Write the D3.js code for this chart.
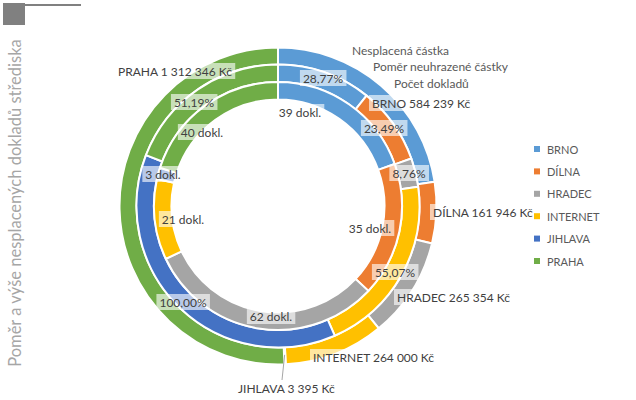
<!DOCTYPE html>
<html><head><meta charset="utf-8">
<script src="https://cdn.jsdelivr.net/npm/d3@7"></script>
<style>body{margin:0;background:#fff}svg{display:block}text{font-family:Lato,"Open Sans",sans-serif}</style>
</head><body><svg id="c" width="636" height="400"></svg>
<script>
const categories = ["BRNO","DÍLNA","HRADEC","INTERNET","JIHLAVA","PRAHA"];
const seriesNames = ["Nesplacená částka","Poměr neuhrazené částky","Počet dokladů"];
const amounts = [584239,161946,265354,264000,3395,1312346];
const ratios = [28.77,23.49,8.76,55.07,100.00,51.19];
const counts = [39,35,62,21,3,40];
const colors = ["#5B9BD5","#ED7D31","#A5A5A5","#FFC000","#4472C4","#70AD47"];
const axisTitle = "Poměr  a výše nesplacených dokladů střediska";

const svg = d3.select("#c");
const cx = 278, cy = 206;
const rings = [
  {values: amounts, r0: 141.5, r1: 158.5},
  {values: ratios, r0: 124, r1: 141.5},
  {values: counts, r0: 106.5, r1: 124}
];
const pie = d3.pie().sort(null).value(d => d);
const color = d3.scaleOrdinal().domain(categories).range(colors);
const g = svg.append("g").attr("transform", `translate(${cx},${cy})`);
rings.forEach(ring => {
  const arc = d3.arc().innerRadius(ring.r0).outerRadius(ring.r1);
  g.append("g").selectAll("path").data(pie(ring.values)).join("path")
    .attr("d", arc).attr("fill", (d,i) => color(categories[i]))
    .attr("stroke", "#fff").attr("stroke-width", 2).attr("stroke-linejoin","round");
});

// leader line for JIHLAVA outer label
const jArcs = pie(amounts);
const ja = (jArcs[4].startAngle + jArcs[4].endAngle) / 2;
const jr = 149;
svg.append("line")
  .attr("x1", cx + jr*Math.sin(ja)).attr("y1", cy - jr*Math.cos(ja))
  .attr("x2", 282).attr("y2", 380)
  .attr("stroke", "#a6a6a6").attr("stroke-width", 1);

const fmtAmt = v => d3.format(",")(v).replace(/,/g, " ");
const fmtPct = v => v.toFixed(2).replace(".", ",") + "%";
// label layout: [x, y, anchor]
const amtPos = [[372,103,"start"],[433,212,"start"],[397,297,"start"],[313,357,"start"],[238,388,"start"],[118,71,"start"]];
const pctPos = [[323,78,"middle"],[384,128,"middle"],[409,173,"middle"],[395,272,"middle"],[183,302,"middle"],[194,102,"middle"]];
const cntPos = [[300,112,"middle"],[370,228,"middle"],[271,316,"middle"],[183,219,"middle"],[163,174,"middle"],[202,132,"middle"]];

const labels = [];
categories.forEach((c,i) => {
  labels.push({t: `${c} ${fmtAmt(amounts[i])} Kč`, p: amtPos[i]});
  labels.push({t: fmtPct(ratios[i]), p: pctPos[i]});
  labels.push({t: `${counts[i]} dokl.`, p: cntPos[i]});
});
const lg = svg.append("g");
labels.forEach(l => {
  const grp = lg.append("g");
  const rect = grp.append("rect").attr("fill", "#fff").attr("fill-opacity", 0.62);
  const txt = grp.append("text").attr("x", l.p[0]).attr("y", l.p[1])
    .attr("text-anchor", l.p[2]).attr("dominant-baseline", "central")
    .attr("font-size", 12).attr("fill", "#404040").text(l.t);
  const bb = txt.node().getBBox();
  rect.attr("x", bb.x - 3).attr("y", l.p[1] - 8).attr("width", bb.width + 6).attr("height", 16);
});

// series names
seriesNames.forEach((s,i) => {
  svg.append("text").attr("x", 352 + i*21).attr("y", 50 + i*16.5)
    .attr("dominant-baseline","central").attr("font-size", 12).attr("fill", "#595959").text(s);
});

// legend
const leg = svg.append("g");
categories.forEach((c,i) => {
  const y = 149 + i*22.4;
  leg.append("rect").attr("x", 534).attr("y", y-3).attr("width", 6).attr("height", 6).attr("fill", colors[i]);
  leg.append("text").attr("x", 547).attr("y", y).attr("dominant-baseline","central")
    .attr("font-size", 11).attr("fill", "#595959").text(c);
});

// axis title
svg.append("text").attr("transform", "translate(15,203) rotate(-90)")
  .attr("text-anchor","middle").attr("dominant-baseline","central")
  .attr("font-size", 16.5).attr("fill", "#a6a6a6").text(axisTitle);

// top-left frame element
svg.append("rect").attr("x",3).attr("y",3).attr("width",22).attr("height",22).attr("fill","#808080");
svg.append("rect").attr("x",25).attr("y",4).attr("width",56).attr("height",2).attr("fill","#808080");
</script></body></html>
